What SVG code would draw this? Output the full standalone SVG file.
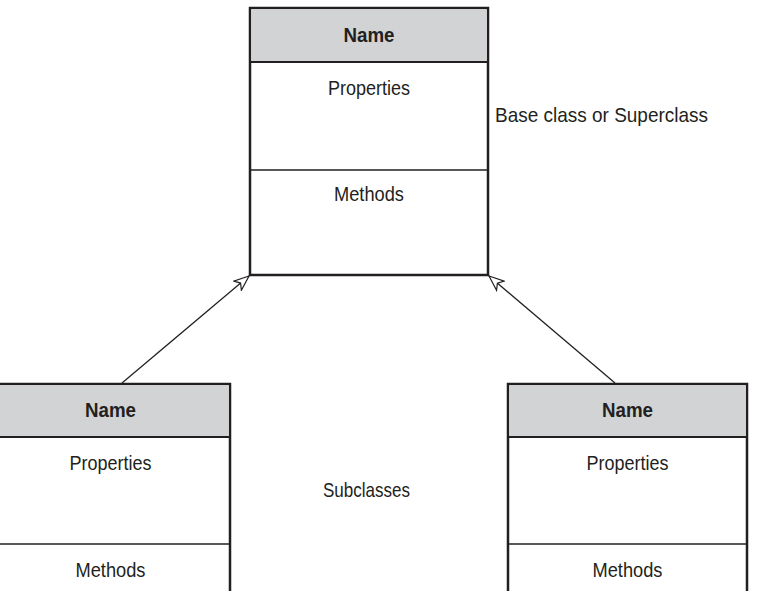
<svg xmlns="http://www.w3.org/2000/svg" width="771" height="591" viewBox="0 0 771 591">
<style>
.box{fill:#fff;stroke:#231f20;stroke-width:2.5}
.hdr{fill:#d1d3d4}
.hl{stroke:#231f20;stroke-width:2}
.dl{stroke:#231f20;stroke-width:1.3}
text{font-family:"Liberation Sans Narrow","Liberation Sans",Arial,sans-serif;fill:#231f20;font-size:21px}
.b{font-weight:bold;text-anchor:middle}
.m{text-anchor:middle}
.conn{stroke:#231f20;stroke-width:1.3;fill:none;marker-end:url(#arr)}
</style>
<defs>
<marker id="arr" markerUnits="userSpaceOnUse" markerWidth="20" markerHeight="14" refX="16" refY="7" orient="auto" viewBox="0 0 20 14">
<path d="M16,7 L1,1 L5,7 L1,13 Z" fill="#fff" stroke="#231f20" stroke-width="1.2" stroke-linejoin="miter"/>
</marker>
</defs>
<g id="connectors">
<line class="conn" x1="122" y1="383" x2="249" y2="276"/>
<line class="conn" x1="615" y1="383" x2="489" y2="276"/>
</g>
<g id="base">
<rect class="box" x="250" y="8" width="238" height="267"/>
<rect class="hdr" x="251.25" y="9.25" width="235.5" height="52.75"/>
<line class="hl" x1="250" y1="62" x2="488" y2="62"/>
<line class="dl" x1="250" y1="170" x2="488" y2="170"/>
<text class="b" x="369" y="42" textLength="51" lengthAdjust="spacingAndGlyphs">Name</text>
<text class="m" x="369" y="95" textLength="82" lengthAdjust="spacingAndGlyphs">Properties</text>
<text class="m" x="369" y="201" textLength="70" lengthAdjust="spacingAndGlyphs">Methods</text>
</g>
<g id="label-base">
<text x="495" y="122" textLength="213" lengthAdjust="spacingAndGlyphs">Base class or Superclass</text>
</g>
<g id="sub-left">
<rect class="box" x="-9" y="384" width="239" height="230"/>
<rect class="hdr" x="-8" y="385.25" width="236.75" height="51.75"/>
<line class="hl" x1="-9" y1="437" x2="230" y2="437"/>
<line class="dl" x1="-9" y1="544" x2="230" y2="544"/>
<text class="b" x="110.5" y="417" textLength="51" lengthAdjust="spacingAndGlyphs">Name</text>
<text class="m" x="110.5" y="470" textLength="82" lengthAdjust="spacingAndGlyphs">Properties</text>
<text class="m" x="110.5" y="577" textLength="70" lengthAdjust="spacingAndGlyphs">Methods</text>
</g>
<g id="sub-right">
<rect class="box" x="508" y="384" width="239" height="230"/>
<rect class="hdr" x="509.25" y="385.25" width="236.5" height="51.75"/>
<line class="hl" x1="508" y1="437" x2="747" y2="437"/>
<line class="dl" x1="508" y1="544" x2="747" y2="544"/>
<text class="b" x="627.5" y="417" textLength="51" lengthAdjust="spacingAndGlyphs">Name</text>
<text class="m" x="627.5" y="470" textLength="82" lengthAdjust="spacingAndGlyphs">Properties</text>
<text class="m" x="627.5" y="577" textLength="70" lengthAdjust="spacingAndGlyphs">Methods</text>
</g>
<g id="label-sub">
<text x="323" y="497" textLength="87" lengthAdjust="spacingAndGlyphs">Subclasses</text>
</g>
</svg>
